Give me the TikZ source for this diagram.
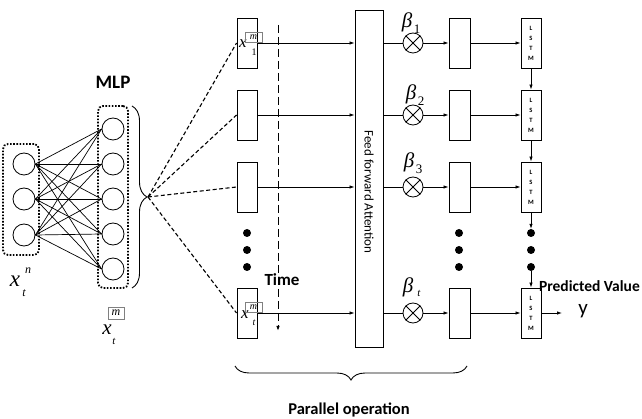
\documentclass[tikz,border=0pt]{standalone}
\usepackage{fontspec}
\setmainfont{Carlito}
\newfontfamily\tms{Liberation Serif}
\usetikzlibrary{arrows.meta,decorations.pathreplacing,calc}
\begin{document}
\begin{tikzpicture}[x=1pt,y=-1pt,
  neuron/.style={draw,circle,minimum size=22pt,inner sep=0pt,line width=0.8pt},
  grp/.style={draw,dash pattern=on 1.6pt off 1.6pt,line width=1.8pt,rounded corners=5pt,inner sep=0pt},
  vbox/.style={draw,minimum width=20pt,minimum height=50pt,inner sep=0pt,line width=0.9pt},
  lstmbox/.style={vbox,font=\fontsize{6.5}{10}\selectfont\bfseries,align=center},
  otimes/.style={draw,circle,minimum size=20pt,inner sep=0pt,line width=0.8pt},
  dotn/.style={fill,circle,minimum size=8pt,inner sep=0pt},
  arr/.style={-{Latex[length=5pt,width=3.5pt]},line width=0.8pt},
  dl/.style={dash pattern=on 4pt off 2.5pt,line width=1.1pt},
  lbl/.style={font=\fontsize{18}{18}\selectfont\bfseries,inner sep=0pt},
  mbox/.style={draw=gray,line width=0.5pt,minimum width=17pt,minimum height=10pt,inner sep=0pt,font=\tms\itshape\fontsize{10}{10}\selectfont},
  mth/.style={inner sep=0pt,font=\tms\itshape},
]
\useasboundingbox (0,0) rectangle (642,419);
\clip (0,0) rectangle (642,419);

% input layer
\foreach \i/\y in {1/164,2/199,3/235} \node[neuron] (in\i) at (24,\y) {};
\node[grp,minimum width=36pt,minimum height=111pt] (ingrp) at (21,199.5) {};
% hidden layer
\foreach \j/\y in {1/129,2/164,3/199,4/234,5/269} \node[neuron] (h\j) at (113,\y) {};
\node[grp,minimum width=30pt,minimum height=182pt] (hgrp) at (113,197) {};
\foreach \i in {1,2,3}
  \foreach \j in {1,...,5}
    \draw[line width=0.7pt] (in\i.east) -- (h\j.west);

\node[lbl,font=\fontsize{19}{19}\selectfont\bfseries] (mlp) at (113,82) {MLP};

% labels x_t^n and x_t^m
\node[mth,font=\tms\itshape\fontsize{23}{23}\selectfont] (xn) at (15,281) {x};
\node[mth,font=\tms\itshape\fontsize{12}{12}\selectfont] (xnt) at (24,293) {t};
\node[mth,font=\tms\itshape\fontsize{12}{12}\selectfont] (xnn) at (28,271) {n};

\node[mth,font=\tms\itshape\fontsize{21}{21}\selectfont] (xm) at (107,330) {x};
\node[mth,font=\tms\itshape\fontsize{11}{11}\selectfont] (xmt) at (114,341) {t};
\node[mbox,minimum width=16pt,minimum height=12pt,font=\tms\itshape\fontsize{12}{12}\selectfont] (xmm) at (116,313) {m};

% right brace
\draw[decorate,decoration={brace,amplitude=15pt,aspect=0.5},line width=0.9pt] (132,106) -- (132,288);
\coordinate (btip) at (148,197);

% time-step boxes
\foreach \k/\y in {1/43,2/115,3/187,4/313} \node[vbox] (b\k) at (247,\y) {};
\foreach \k/\y in {1/233,2/250,3/267} \node[dotn] (bd\k) at (247,\y) {};
\foreach \k in {1,2,3,4} \draw[dl] (btip) -- (b\k.west);

% x_1^m and x_t^m inside boxes
\node[mth,font=\tms\itshape\fontsize{17}{17}\selectfont] (x1) at (243,44) {x};
\node[mth,font=\tms\fontsize{10}{10}\selectfont] (x1s) at (254,52) {1};
\node[mbox] (x1m) at (253.5,37.5) {m};
\node[mth,font=\tms\itshape\fontsize{17}{17}\selectfont] (x4) at (245,315) {x};
\node[mth,font=\tms\itshape\fontsize{10}{10}\selectfont] (x4s) at (254,323) {t};
\node[mbox] (x4m) at (253.5,307) {m};

% attention
\node[draw,line width=0.9pt,minimum width=28pt,minimum height=337pt,inner sep=0pt] (att) at (369,178.5) {};
\node[rotate=-90,font=\fontsize{13}{13}\selectfont,inner sep=0pt] (atttxt) at (369,192) {Feed forward Attention};

\foreach \k in {1,2,3,4} \draw[arr] (b\k.east) -- (b\k.east -| att.west);

% time axis
\coordinate (tt) at (278,25);
\coordinate (tb) at (278,331);
\draw[-{Latex[length=5pt,width=3.5pt]},dash pattern=on 8pt off 4pt,line width=1pt] (tt) -- (tb);
\node[lbl,font=\fontsize{17}{17}\selectfont\bfseries] (time) at (282,280) {Time};

% otimes
\foreach \k/\y in {1/43,2/115,3/187,4/313} {
  \node[otimes] (o\k) at (413,\y) {};
  \draw[line width=0.8pt] (o\k.north east) -- (o\k.south west) (o\k.north west) -- (o\k.south east);
  \draw[line width=0.9pt] (att.east |- o\k.west) -- (o\k.west);
}
\node[mth,font=\tms\itshape\fontsize{21}{21}\selectfont] (be1) at (407,22) {β};
\node[mth,font=\tms\fontsize{13}{13}\selectfont] (be1s) at (417,29) {1};
\node[mth,font=\tms\itshape\fontsize{21}{21}\selectfont] (be2) at (411,94) {β};
\node[mth,font=\tms\fontsize{13}{13}\selectfont] (be2s) at (421,101) {2};
\node[mth,font=\tms\itshape\fontsize{21}{21}\selectfont] (be3) at (409,162) {β};
\node[mth,font=\tms\fontsize{13}{13}\selectfont] (be3s) at (419,169) {3};
\node[mth,font=\tms\itshape\fontsize{21}{21}\selectfont] (be4) at (408,287) {β};
\node[mth,font=\tms\itshape\fontsize{11}{11}\selectfont] (be4s) at (419,293) {t};

% context boxes
\foreach \k/\y in {1/43,2/115,3/187,4/313} \node[vbox,minimum width=21pt] (c\k) at (459.5,\y) {};
\foreach \k/\y in {1/233,2/250,3/267} \node[dotn] (cd\k) at (459,\y) {};
\foreach \k in {1,2,3,4} \draw[arr] (o\k.east) -- (c\k.west);

% LSTM
\foreach \k/\y in {1/43,2/115,3/187,4/313} \node[lstmbox] (l\k) at (531,\y) {L\\S\\T\\M};
\foreach \k/\y in {1/233,2/250,3/267} \node[dotn] (ld\k) at (531,\y) {};
\foreach \k in {1,2,3,4} \draw[arr] (c\k.east) -- (l\k.west);
\draw[arr] (l1.south) -- (l2.north);
\draw[arr] (l2.south) -- (l3.north);
\draw[arr] (l3.south) -- (ld1.north);
\draw[arr] (ld3.south) -- (l4.north);

% output
\coordinate (yo) at (562,313);
\draw[arr] (l4.east) -- (yo);
\node[font=\fontsize{21}{21}\selectfont,inner sep=0pt] (ylab) at (583,311) {y};
\node[lbl,font=\fontsize{15.5}{15.5}\selectfont\bfseries,anchor=east] (pv) at (640,286) {Predicted Value};

% bottom brace
\draw[decorate,decoration={brace,amplitude=14pt,aspect=0.5},line width=0.9pt] (467,366) -- (235,366);
\node[lbl,font=\fontsize{16.5}{16.5}\selectfont\bfseries] (par) at (349,410) {Parallel operation};
\end{tikzpicture}
\end{document}
